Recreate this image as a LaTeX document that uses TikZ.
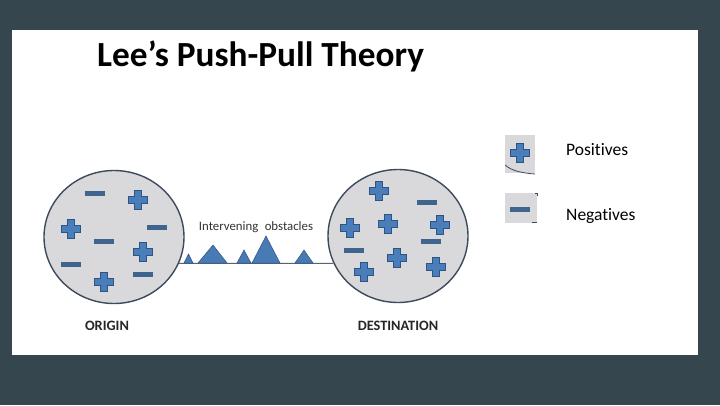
\documentclass[tikz,border=0pt]{standalone}
\usepackage{fontspec}
\setmainfont{Carlito}[Ligatures=NoCommon]
\usetikzlibrary{
	positioning,
	shapes.geometric
}

\definecolor{slate}{RGB}{54,70,79}
\definecolor{disc}{RGB}{217,217,219}
\definecolor{rim}{RGB}{62,74,92}
\definecolor{plusblue}{RGB}{74,126,187}
\definecolor{plusrim}{RGB}{47,84,130}
\definecolor{minusblue}{RGB}{63,101,143}
\definecolor{hillblue}{RGB}{72,122,181}
\definecolor{groundgray}{RGB}{90,100,110}

\begin{document}
\begin{tikzpicture}[
	x=1pt, y=-1pt,
	region/.style = {
		ellipse, draw=rim, line width=1.4pt, fill=disc,
		minimum width=140pt, minimum height=133pt
	},
	plusmark/.style = {
		inner sep=0pt, minimum size=23pt,
		path picture={
			\filldraw[draw=plusrim, fill=plusblue, line width=0.8pt,
				shift={(path picture bounding box.center)}]
				(-3.8,-9.8) -- (3.8,-9.8) -- (3.8,-3.8) -- (9.8,-3.8) --
				(9.8,3.8) -- (3.8,3.8) -- (3.8,9.8) -- (-3.8,9.8) --
				(-3.8,3.8) -- (-9.8,3.8) -- (-9.8,-3.8) -- (-3.8,-3.8) -- cycle;
		}
	},
	minusmark/.style = {
		rectangle, inner sep=0pt, fill=minusblue,
		minimum width=20pt, minimum height=5pt
	},
	hill/.style = {fill=hillblue, draw=plusrim, line width=0.5pt},
	keybox/.style = {rectangle, fill=disc, inner sep=0pt},
	caption/.style = {font=\bfseries\fontsize{14.3}{16}\selectfont, text=black!85}
]

	% frame
	\useasboundingbox [fill=slate] (0,0) rectangle (720,405);
	\fill [white] (12,30) rectangle (698,355);

	\node (title) [anchor=base west, inner xsep=0pt, font=\bfseries\fontsize{35.3}{39}\selectfont]
		at (97,66) {Lee’s Push-Pull Theory};

	% origin and destination
	\node (origin) [region] at (114,237) {};
	\node (dest) [region] at (398,236) {};

	\node (originlabel) [caption] at (107,326) {ORIGIN};
	\node (destlabel) [caption] at (398,326) {DESTINATION};

	\draw [groundgray, line width=1pt] (origin.-22) -- (dest.-157);

	% obstacles
	\filldraw [hill] (184,263) -- (188.5,254) -- (193,263) -- cycle;
	\filldraw [hill] (198,263) -- (213,245) -- (227,263) -- cycle;
	\filldraw [hill] (237,263) -- (244,250) -- (251,263) -- cycle;
	\filldraw [hill] (252,263) -- (266,236) -- (280,263) -- cycle;
	\filldraw [hill] (295,263) -- (304,250) -- (313,263) -- cycle;

	\node (obstacles) [font=\fontsize{12.8}{14}\selectfont, text=black!80]
		at (256,227) {Intervening\enspace obstacles};

	% origin contents
	\node (o1) [plusmark] at (138,200) {};
	\node (o2) [plusmark] at (71,229) {};
	\node (o3) [plusmark] at (143,252) {};
	\node (o4) [plusmark] at (104,282) {};
	\node (o5) [minusmark] at (95,193) {};
	\node (o6) [minusmark] at (157,227) {};
	\node (o7) [minusmark] at (104,241) {};
	\node (o8) [minusmark] at (71,264) {};
	\node (o9) [minusmark] at (143,274) {};

	% destination contents
	\node (d1) [plusmark] at (379,191) {};
	\node (d2) [plusmark] at (350,228) {};
	\node (d3) [plusmark] at (388,224) {};
	\node (d4) [plusmark] at (440,225) {};
	\node (d5) [plusmark] at (397,258) {};
	\node (d6) [plusmark] at (364,272) {};
	\node (d7) [plusmark] at (436,267) {};
	\node (d8) [minusmark] at (427,202) {};
	\node (d9) [minusmark] at (431,241) {};
	\node (d10) [minusmark] at (354,250) {};

	% legend
	\node (kplusbox) [keybox, minimum width=30pt, minimum height=38pt] at (520,154) {};
	\node (kplus) [plusmark] at (520,153) {};
	\draw [rim, line width=0.8pt] (505,165) .. controls (512,171) and (522,173) .. (535,174);
	\node (kposlabel) [anchor=base west, inner xsep=0pt, font=\fontsize{17.5}{20}\selectfont]
		at (566,155) {Positives};

	\node (kminusbox) [keybox, minimum width=32pt, minimum height=30pt] at (521,208) {};
	\node (kminus) [minusmark] at (520,209) {};
	\draw [rim, line width=0.8pt] (532,222.5) -- (537,222.5);
	\draw [rim, line width=0.6pt] (535,193.5) -- (537.5,193.5) -- (537.5,196);
	\node (kneglabel) [anchor=base west, inner xsep=0pt, font=\fontsize{17.5}{20}\selectfont]
		at (566,220) {Negatives};
\end{tikzpicture}
\end{document}
